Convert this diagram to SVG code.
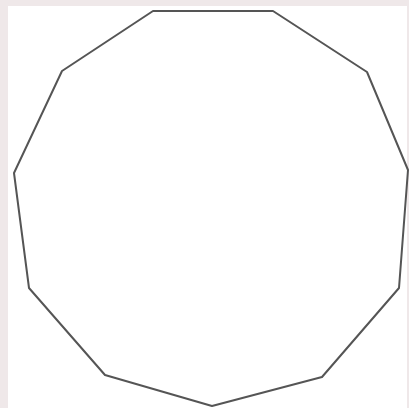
<svg xmlns="http://www.w3.org/2000/svg" width="409" height="408" viewBox="0 0 409 408">
<style>
.frame{fill:#efe8e9}
.shape{fill:#ffffff;stroke:#555555;stroke-width:2;stroke-linejoin:round}
</style>
<rect class="frame" x="0" y="0" width="409" height="408"/>
<rect x="8" y="6" width="399" height="402" fill="#ffffff"/>
<g id="dodecagon">
<polygon class="shape" points="153,11 273,11 367,72 408,170 399,288 322,377 212,406 105,375 29,288 14,173 62,71"/>
</g>
</svg>
